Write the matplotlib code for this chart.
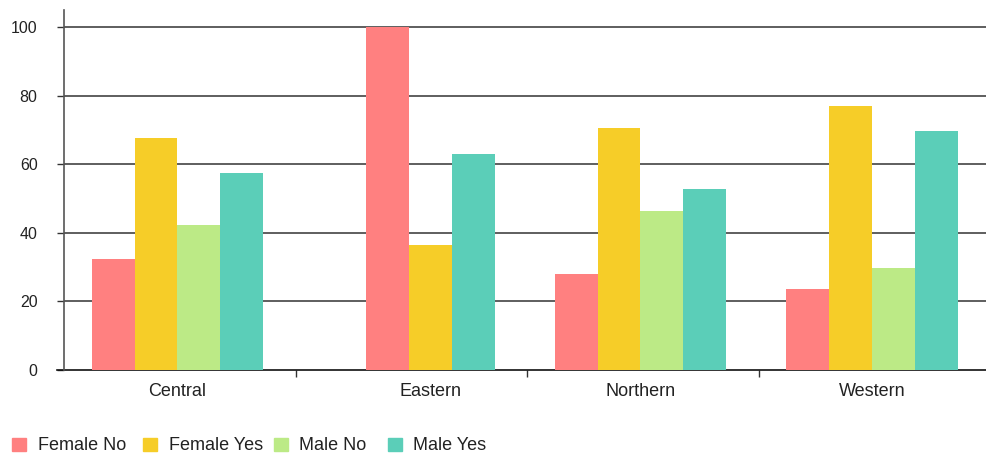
import numpy as np
import matplotlib
matplotlib.use("Agg")
from matplotlib import pyplot as plt
from matplotlib.patches import Rectangle

# datos
regions = ["Central", "Eastern", "Northern", "Western"]
series = ["Female No", "Female Yes", "Male No", "Male Yes"]
female_no = [32.4, 100.0, 27.9, 23.7]
female_yes = [67.6, 36.4, 70.5, 77.0]
male_no = [42.3, np.nan, 46.3, 29.7]
male_yes = [57.5, 62.9, 52.7, 69.6]
colors = ["#ff8080", "#f6cd28", "#bcea86", "#5bceb8"]
yticks = [0, 20, 40, 60, 80, 100]

plt.rcParams["font.family"] = ["Liberation Sans", "DejaVu Sans"]

W, H = 986, 453
fig = plt.figure(figsize=(W / 100, H / 100), dpi=100)
ax = fig.add_axes([64 / W, 83 / H, 926 / W, 360 / H])

values = [female_no, female_yes, male_no, male_yes]
bw = 0.185
for i, reg in enumerate(regions):
    present = [k for k in range(len(series)) if not np.isnan(values[k][i])]
    # grupo de 4 huecos centrado; las barras presentes se empujan a la derecha
    right = i + 0.5 + 2 * bw - 0.01
    start = right - len(present) * bw
    for j, k in enumerate(present):
        ax.bar(start + j * bw, values[k][i], width=bw, align="edge",
               color=colors[k], zorder=3, linewidth=0)

ax.set_xlim(0, 4)
ax.set_ylim(0, 105)
ax.set_yticks(yticks)
ax.set_yticklabels([str(t) for t in yticks], fontsize=11.5, color="#222222")
for t in yticks[1:]:
    ax.axhline(t, color="#333333", lw=1.1, zorder=1)
ax.axhline(0, xmin=-7 / 926, color="#111111", lw=1.2, zorder=2, clip_on=False)

ax.set_xticks([1, 2, 3])
ax.set_xticklabels([])
ax.tick_params(axis="x", length=5, width=1, color="#333333", direction="out")
ax.tick_params(axis="y", length=5, width=1, color="#333333", pad=14)
for i, reg in enumerate(regions):
    present = [k for k in range(len(series)) if not np.isnan(values[k][i])]
    right = i + 0.5 + 2 * bw - 0.01
    ctr = right - len(present) * bw / 2
    ax.text(ctr, -6.2, reg, ha="center", va="center", fontsize=13,
            color="#222222")

for s in ["top", "right", "bottom"]:
    ax.spines[s].set_visible(False)
ax.spines["left"].set_color("#555555")
ax.spines["left"].set_linewidth(1.2)

# leyenda manual
leg_sq = [12, 143, 274, 388]
leg_tx = [38, 169, 299, 413]
for k, name in enumerate(series):
    fig.patches.append(Rectangle((leg_sq[k] / W, (H - 451) / H), 14 / W, 13 / H,
                                 transform=fig.transFigure, color=colors[k]))
    fig.text(leg_tx[k] / W, (H - 446) / H, name, ha="left", va="center",
             fontsize=13, color="#222222")

fig.savefig("out.png", dpi=100)
